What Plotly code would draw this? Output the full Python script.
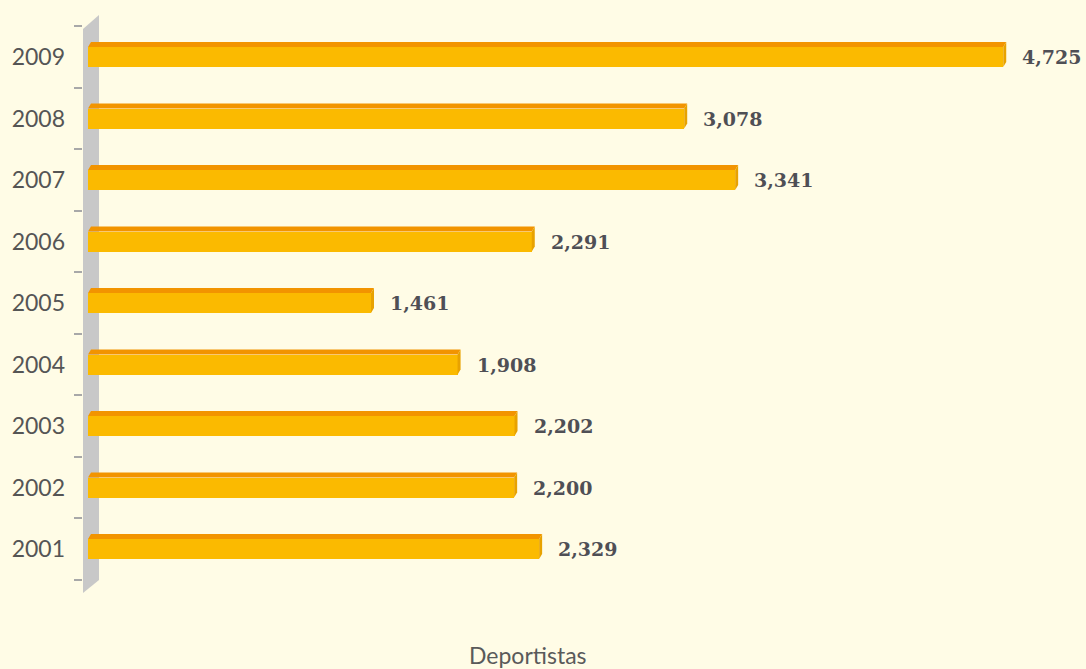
import plotly.graph_objects as go

years = ["2001", "2002", "2003", "2004", "2005", "2006", "2007", "2008", "2009"]
values = [2329, 2200, 2202, 1908, 1461, 2291, 3341, 3078, 4725]
value_labels = ["2,329", "2,200", "2,202", "1,908", "1,461", "2,291", "3,341", "3,078", "4,725"]
axis_title = "Deportistas"

BG = "#FFFCE6"
FRONT = "#FBBA00"
TOP = "#F29400"
SIDE = "#E8A200"
WALL = "#C8C8C8"

# layout geometry (pixels)
W, H = 1086, 669
ML, MR, MT, MB = 83, 0, 15, 76
px_per_unit = 0.1937
x0_px = 88
xmin = -(x0_px - ML) / px_per_unit
xmax = xmin + (W - ML - MR) / px_per_unit
ymin, ymax = -0.715, 8.683
cat_px = (H - MT - MB) / (ymax - ymin)

half = 10 / cat_px          # half-height of front face
depth_y = 5 / cat_px        # top-face height
depth_x = 3 / px_per_unit   # top-face horizontal offset

fig = go.Figure()

# front faces
fig.add_trace(go.Bar(
    y=years, x=values, orientation="h", width=2 * half,
    marker=dict(color=FRONT, line=dict(width=0)),
    hoverinfo="x+y", showlegend=False,
))

# top and side faces built from values (on an overlaid numeric y axis)
for i, v in enumerate(values):
    c = i
    fig.add_trace(go.Scatter(
        x=[0, v, v + depth_x, depth_x, 0],
        y=[c + half, c + half, c + half + depth_y, c + half + depth_y, c + half],
        fill="toself", fillcolor=TOP, mode="lines", line=dict(width=0),
        hoverinfo="skip", showlegend=False, yaxis="y2",
    ))
    fig.add_trace(go.Scatter(
        x=[v, v + depth_x, v + depth_x, v, v],
        y=[c - half, c - half + depth_y, c + half + depth_y, c + half, c - half],
        fill="toself", fillcolor=SIDE, mode="lines", line=dict(width=0),
        hoverinfo="skip", showlegend=False, yaxis="y2",
    ))

# value labels
for i, (v, t) in enumerate(zip(values, value_labels)):
    fig.add_annotation(
        x=v + depth_x, y=i, yref="y2", text="<b>%s</b>" % t, showarrow=False,
        xanchor="left", yanchor="middle", xshift=14, yshift=0,
        font=dict(family="DejaVu Serif", size=19, color="#4F4F55"),
    )

# gray wall on the left
wall_right = xmin + 16 / px_per_unit
fig.add_shape(
    type="path", layer="below", xref="x", yref="y2",
    path="M %f,%f L %f,%f L %f,%f L %f,%f Z" % (
        xmin, ymax - 14 / cat_px,
        wall_right, ymax,
        wall_right, ymin + 13 / cat_px,
        xmin, ymin,
    ),
    fillcolor=WALL, line=dict(width=0),
)

# axis title
fig.add_annotation(
    xref="paper", yref="paper", x=(528 - ML) / (W - ML - MR), y=(H - MB - 655) / (H - MT - MB),
    text=axis_title, showarrow=False, xanchor="center", yanchor="middle",
    font=dict(family="Lato", size=23, color="#5A5A5A"),
)

fig.update_layout(
    width=W, height=H,
    margin=dict(l=ML, r=MR, t=MT, b=MB),
    paper_bgcolor=BG, plot_bgcolor=BG,
    bargap=0,
    xaxis=dict(range=[xmin, xmax], visible=False, showgrid=False, zeroline=False),
    yaxis=dict(
        type="category", range=[ymin, ymax],
        categoryorder="array", categoryarray=years,
        tickson="boundaries", ticks="outside", ticklen=8, tickwidth=2,
        tickcolor="#A8A8A8", showline=False, showgrid=False, zeroline=False,
        tickfont=dict(family="Lato", size=23, color="#555555"),
        ticklabelstandoff=17,
    ),
    yaxis2=dict(
        overlaying="y", range=[ymin, ymax], visible=False,
        showgrid=False, zeroline=False,
    ),
)

fig.write_html(
    "out.html",
    config={"displayModeBar": False},
    post_script="document.body.style.margin='0';document.body.style.background='%s';" % BG,
)
